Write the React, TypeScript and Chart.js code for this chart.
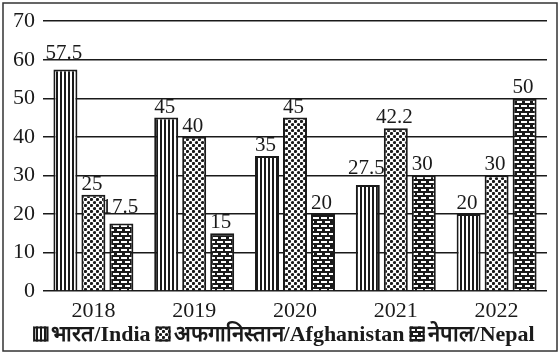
import React, { useEffect, useRef } from "react";
import { Chart, registerables } from "chart.js";

Chart.register(...registerables);

const years = ["2018", "2019", "2020", "2021", "2022"];
const indiaValues = [57.5, 45, 35, 27.5, 20];
const afghanValues = [25, 40, 45, 42.2, 30];
const nepalValues = [17.5, 15, 20, 30, 50];
const seriesLabels = ["भारत/India", "अफगानिस्तान/Afghanistan", "नेपाल/Nepal"];
const yTicks = [0, 10, 20, 30, 40, 50, 60, 70];

const INK = "#1a1a1a";
const SERIF = "'Liberation Serif', 'Times New Roman', serif";

function makeTile(w: number, h: number, draw: (c: CanvasRenderingContext2D) => void): CanvasPattern | string {
  const cv = document.createElement("canvas");
  cv.width = w;
  cv.height = h;
  const c = cv.getContext("2d");
  if (!c) return "#888";
  draw(c);
  const ctx = document.createElement("canvas").getContext("2d");
  const p = ctx ? ctx.createPattern(cv, "repeat") : null;
  return p || "#888";
}

function stripes() {
  return makeTile(4, 4, (c) => {
    c.fillStyle = "#fff";
    c.fillRect(0, 0, 4, 4);
    c.fillStyle = INK;
    c.fillRect(0, 0, 2, 4);
  });
}

function dots() {
  return makeTile(6, 6, (c) => {
    c.fillStyle = "#fff";
    c.fillRect(0, 0, 6, 6);
    c.fillStyle = INK;
    c.beginPath();
    c.arc(1.5, 1.5, 1.6, 0, Math.PI * 2);
    c.fill();
    c.beginPath();
    c.arc(4.5, 4.5, 1.6, 0, Math.PI * 2);
    c.fill();
  });
}

function bricks() {
  return makeTile(8, 8, (c) => {
    c.fillStyle = INK;
    c.fillRect(0, 0, 8, 8);
    c.fillStyle = "#fff";
    c.fillRect(1, 1, 6, 2);
    c.fillRect(5, 5, 3, 2);
    c.fillRect(0, 5, 2, 2);
  });
}

const valueLabels = {
  id: "valueLabels",
  afterDatasetsDraw(chart: any) {
    const ctx = chart.ctx;
    const yScale = chart.scales.y;
    const lines = yTicks.map((v) => yScale.getPixelForValue(v));
    ctx.save();
    ctx.font = `21px ${SERIF}`;
    ctx.fillStyle = INK;
    ctx.textAlign = "center";
    ctx.textBaseline = "alphabetic";
    chart.data.datasets.forEach((ds: any, di: number) => {
      const meta = chart.getDatasetMeta(di);
      meta.data.forEach((bar: any, i: number) => {
        let base = bar.y - 5;
        const top = base - 14;
        const hit = lines.find((ly: number) => ly > top + 2 && ly < base + 1);
        if (hit !== undefined) base = hit - 1;
        ctx.fillText(String(ds.data[i]), bar.x - 1.5, base);
      });
    });
    ctx.restore();
  },
};

const frameAndLegend = {
  id: "frameAndLegend",
  afterDraw(chart: any) {
    const ctx = chart.ctx;
    ctx.save();
    // frame
    ctx.strokeStyle = "#333";
    ctx.lineWidth = 1.5;
    ctx.strokeRect(3, 3, chart.width - 6, chart.height - 13);
    // legend
    ctx.font = `bold 22px ${SERIF}`;
    const box = 15;
    const gapBoxText = 3;
    const gapItems = 5;
    const items = chart.data.datasets.map((ds: any) => ({
      label: ds.label,
      fill: ds.backgroundColor,
      w: ctx.measureText(ds.label).width,
    }));
    const total = items.reduce((s: number, it: any) => s + box + gapBoxText + it.w, 0) + gapItems * (items.length - 1);
    let x = chart.width / 2 + 4 - total / 2;
    const cy = chart.chartArea.bottom + 43;
    ctx.textBaseline = "middle";
    ctx.textAlign = "left";
    items.forEach((it: any) => {
      ctx.fillStyle = it.fill;
      ctx.fillRect(x, cy - box / 2, box, box);
      ctx.strokeStyle = INK;
      ctx.lineWidth = 2;
      ctx.strokeRect(x + 1, cy - box / 2 + 1, box - 2, box - 2);
      ctx.fillStyle = INK;
      ctx.fillText(it.label, x + box + gapBoxText, cy + 1);
      x += box + gapBoxText + it.w + gapItems;
    });
    ctx.restore();
  },
};

export default function App() {
  const ref = useRef<HTMLCanvasElement | null>(null);
  useEffect(() => {
    if (!ref.current) return;
    const common = {
      borderColor: INK,
      borderWidth: 2,
      categoryPercentage: 0.833,
      barPercentage: 0.857,
    };
    const chart = new Chart(ref.current, {
      type: "bar",
      data: {
        labels: years,
        datasets: [
          { label: seriesLabels[0], data: indiaValues, backgroundColor: stripes() as any, ...common },
          { label: seriesLabels[1], data: afghanValues, backgroundColor: dots() as any, ...common },
          { label: seriesLabels[2], data: nepalValues, backgroundColor: bricks() as any, ...common },
        ],
      },
      options: {
        responsive: false,
        animation: false,
        layout: { padding: { left: 13, right: 13, top: 17, bottom: 36 } },
        plugins: {
          legend: { display: false },
          tooltip: { enabled: false },
        },
        scales: {
          x: {
            grid: { display: false, drawTicks: false },
            border: { display: false },
            ticks: { color: INK, font: { family: SERIF, size: 22 }, padding: 7 },
            afterFit: (axis: any) => {
              axis.height = 34;
            },
          },
          y: {
            min: 0,
            max: 70,
            afterBuildTicks: (axis: any) => {
              axis.ticks = yTicks.map((v) => ({ value: v }));
            },
            grid: { color: INK, lineWidth: 1.5, drawTicks: false },
            border: { display: false },
            ticks: { color: INK, font: { family: SERIF, size: 22 }, padding: 8 },
            afterFit: (axis: any) => {
              axis.width = 30;
            },
          },
        },
      },
      plugins: [valueLabels, frameAndLegend],
    });
    return () => chart.destroy();
  }, []);
  return (
    <div style={{ position: "fixed", left: 0, top: 0, width: 560, height: 361, background: "#fff" }}>
      <canvas ref={ref} width={560} height={361} />
    </div>
  );
}
